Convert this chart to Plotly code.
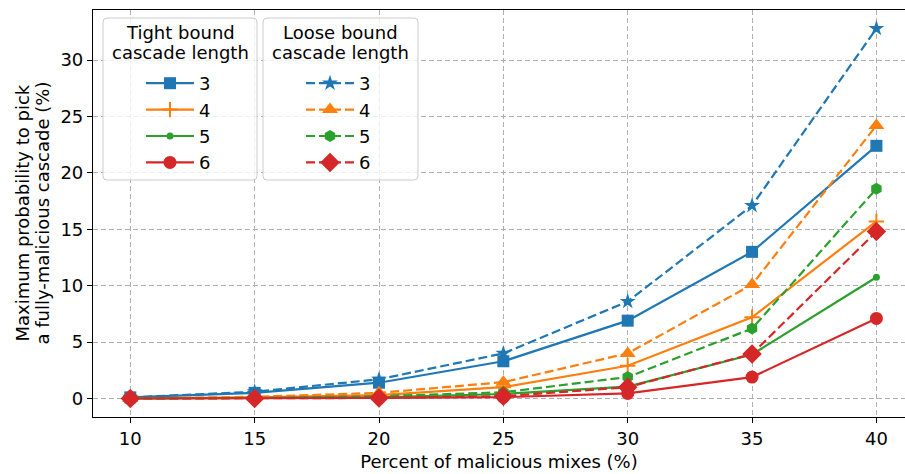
import plotly.graph_objects as go

# Percent of malicious mixes (x axis)
malicious_pct = [10, 15, 20, 25, 30, 35, 40]
cascade_lengths = [3, 4, 5, 6]

# Maximum probability (%) of picking a fully-malicious cascade
tight_3 = [0.1, 0.5, 1.4, 3.3, 6.9, 13.0, 22.4]
tight_4 = [0.0, 0.1, 0.3, 1.0, 2.9, 7.2, 15.7]
tight_5 = [0.0, 0.05, 0.1, 0.4, 1.05, 3.9, 10.75]
tight_6 = [0.0, 0.0, 0.05, 0.12, 0.45, 1.9, 7.1]

loose_3 = [0.1, 0.6, 1.7, 4.0, 8.6, 17.1, 32.8]
loose_4 = [0.0, 0.15, 0.5, 1.45, 4.0, 10.1, 24.2]
loose_5 = [0.0, 0.05, 0.2, 0.55, 1.9, 6.2, 18.6]
loose_6 = [0.0, 0.0, 0.05, 0.2, 1.0, 3.95, 14.8]

tight_series = [tight_3, tight_4, tight_5, tight_6]
loose_series = [loose_3, loose_4, loose_5, loose_6]

tight_title = ["Tight bound", "cascade length"]
loose_title = ["Loose bound", "cascade length"]
y_title = ["Maximum probability to pick", "a fully-malicious cascade (%)"]

colors = ["#1f77b4", "#ff7f0e", "#2ca02c", "#d62728"]
tight_symbols = ["square", "cross-thin", "circle", "circle"]
tight_sizes = [12, 11, 7, 13]
loose_symbols = ["star", "triangle-up", "hexagon", "diamond"]
loose_sizes = [12, 14, 12, 15]

FONT = "DejaVu Sans"
W, H = 905, 474
ML, MR, MT, MB = 93, 0, 10, 57
PW, PH = W - ML - MR, H - MT - MB


def px_x(px):
    return (px - ML) / PW


def px_y(py):
    return (H - MB - py) / PH


fig = go.Figure()

for n, ys, col, sym, sz in zip(cascade_lengths, tight_series, colors, tight_symbols, tight_sizes):
    fig.add_trace(go.Scatter(
        x=malicious_pct, y=ys, name=str(n), mode="lines+markers",
        line=dict(color=col, width=2.2),
        marker=dict(symbol=sym, size=sz, color=col,
                    line=dict(color=col, width=2 if sym == "cross-thin" else 0)),
        legend="legend",
    ))

for n, ys, col, sym, sz in zip(cascade_lengths, loose_series, colors, loose_symbols, loose_sizes):
    fig.add_trace(go.Scatter(
        x=malicious_pct, y=ys, name=str(n), mode="lines+markers",
        line=dict(color=col, width=2.2, dash="9px,4px"),
        marker=dict(symbol=sym, size=sz, color=col, line=dict(width=0)),
        legend="legend2",
    ))


def rounded_box(x0, y0, x1, y1, r=4):
    """Rounded rectangle path in paper coordinates from pixel bounds."""
    rx, ry = r / PW, r / PH
    X0, X1 = px_x(x0), px_x(x1)
    Y0, Y1 = px_y(y1), px_y(y0)  # bottom, top
    return (f"M{X0 + rx},{Y0} L{X1 - rx},{Y0} Q{X1},{Y0} {X1},{Y0 + ry} "
            f"L{X1},{Y1 - ry} Q{X1},{Y1} {X1 - rx},{Y1} L{X0 + rx},{Y1} "
            f"Q{X0},{Y1} {X0},{Y1 - ry} L{X0},{Y0 + ry} Q{X0},{Y0} {X0 + rx},{Y0} Z")


legend_boxes = [(103, 18, 257, 180), (263, 18, 418, 180)]
shapes = [
    dict(type="path", path=rounded_box(*b), xref="paper", yref="paper",
         fillcolor="rgba(255,255,255,0.8)", line=dict(color="#cccccc", width=1),
         layer="above")
    for b in legend_boxes
]

annotations = []
for (x0, y0, x1, y1), lines in zip(legend_boxes, [tight_title, loose_title]):
    cx = (x0 + x1) / 2
    for text, py in zip(lines, [33, 52.5]):
        annotations.append(dict(
            text=text, x=px_x(cx), y=px_y(py), xref="paper", yref="paper",
            xanchor="center", yanchor="middle", showarrow=False,
            font=dict(family=FONT, size=18, color="#000000"),
        ))
for text, px in zip(y_title, [22, 42]):
    annotations.append(dict(
        text=text, x=px_x(px), y=0.5, xref="paper", yref="paper",
        xanchor="center", yanchor="middle", showarrow=False, textangle=-90,
        font=dict(family=FONT, size=18, color="#000000"),
    ))

legend_common = dict(
    bgcolor="rgba(0,0,0,0)",
    borderwidth=0,
    font=dict(family=FONT, size=18, color="#000000"),
    xref="paper", yref="paper",
    xanchor="left", yanchor="top",
    indentation=38,
    itemwidth=48,
)

fig.update_layout(
    width=W, height=H,
    margin=dict(l=ML, r=MR, t=MT, b=MB),
    paper_bgcolor="white",
    plot_bgcolor="white",
    font=dict(family=FONT, size=18, color="#000000"),
    showlegend=True,
    shapes=shapes,
    annotations=annotations,
    legend=dict(x=px_x(103), y=px_y(65), **legend_common),
    legend2=dict(x=px_x(263), y=px_y(65), **legend_common),
    xaxis=dict(
        range=[8.5, 41.15],
        tickvals=malicious_pct,
        ticks="outside", ticklen=5, tickwidth=1, tickcolor="black",
        showline=True, linecolor="black", linewidth=1.2, mirror=True,
        showgrid=True, gridcolor="#b0b0b0", griddash="5px,3px", gridwidth=1,
        zeroline=False,
        tickfont=dict(family=FONT, size=18),
        title=dict(text="Percent of malicious mixes (%)", standoff=7,
                   font=dict(family=FONT, size=18)),
    ),
    yaxis=dict(
        range=[-1.64, 34.44],
        tickvals=[0, 5, 10, 15, 20, 25, 30],
        ticks="outside", ticklen=5, tickwidth=1, tickcolor="black",
        showline=True, linecolor="black", linewidth=1.2, mirror=False,
        showgrid=True, gridcolor="#b0b0b0", griddash="5px,3px", gridwidth=1,
        zeroline=False,
        tickfont=dict(family=FONT, size=18),
    ),
)

fig.write_html("out.html")
